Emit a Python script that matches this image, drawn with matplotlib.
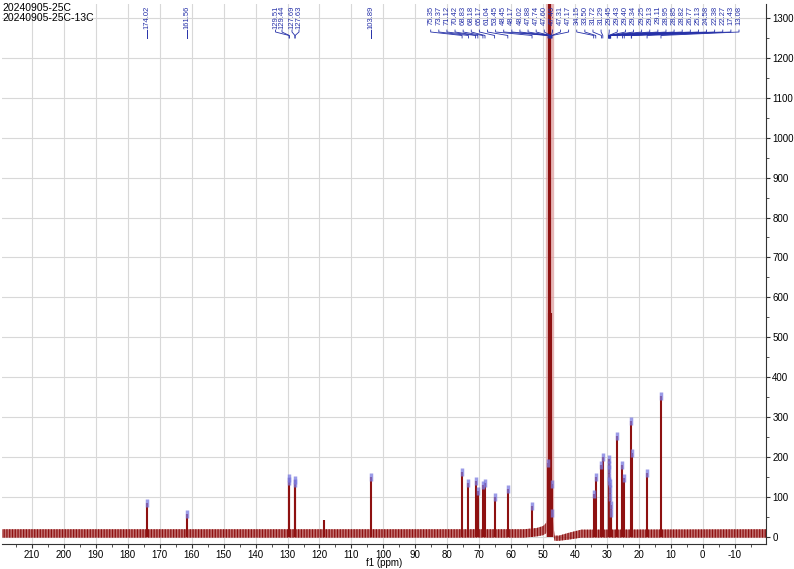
import matplotlib
matplotlib.use('Agg')
import matplotlib.pyplot as plt
import matplotlib.transforms as mtransforms
from matplotlib.ticker import MultipleLocator

plt.rcParams['font.family'] = ['Liberation Sans', 'DejaVu Sans']
plt.rcParams['hatch.linewidth'] = 0.9

# ---------------- data ----------------
titles = ['20240905-25C', '20240905-25C-13C']

# labelled peaks (ppm) and their heights
peak_ppm = [174.02, 161.56, 129.51, 129.44, 127.69, 127.63, 103.89,
            75.35, 73.37, 71.12, 70.42, 68.83, 68.18, 65.17, 61.04, 53.45,
            48.45, 48.17, 48.02, 47.88, 47.74, 47.60, 47.46, 47.31, 47.17,
            34.15, 33.50, 31.72, 31.29, 29.45, 29.43, 29.40, 29.34, 29.25,
            29.13, 29.11, 28.95, 28.85, 28.82, 26.77, 25.13, 24.58, 22.38,
            22.27, 17.43, 13.08]
peak_height = [85, 58, 148, 140, 142, 134, 150,
               162, 134, 139, 114, 129, 136, 101, 120, 77,
               186, 560, 1400, 1400, 1400, 560, 393, 133, 60,
               108, 150, 180, 201, 195, 180, 170, 151, 140,
               135, 120, 100, 80, 60, 253, 179, 147, 289,
               210, 161, 354]

# unlabelled small peak
extra_ppm = [118.7]
extra_height = [41]

# baseline noise envelope
band_ppm = [219.4, 56.0, 52.0, 50.0, 49.0, 48.6, 47.0, 46.4, 45.0, 42.0, 38.0, -19.8]
band_low = [-2, -2, 1, 4, 9, 20, 15, -10, -10, -7, -2, -2]
band_high = [19, 19, 22, 27, 35, 48, 48, 3, 3, 10, 18, 19]

# solvent broad peak
solvent_ppm = [47.8]
solvent_height = [1400]

x_ticks = list(range(210, -11, -10))
y_ticks = list(range(0, 1301, 100))

# groups of labels
isolated_labels = [174.02, 161.56, 103.89]
aromatic_labels = [129.51, 129.44, 127.69, 127.63]
cluster_labels = [75.35, 73.37, 71.12, 70.42, 68.83, 68.18, 65.17, 61.04, 53.45,
                  48.45, 48.17, 48.02, 47.88, 47.74, 47.60, 47.46, 47.31, 47.17,
                  34.15, 33.50, 31.72, 31.29, 29.45, 29.43, 29.40, 29.34, 29.25,
                  29.13, 29.11, 28.95, 28.85, 28.82, 26.77, 25.13, 24.58, 22.38,
                  22.27, 17.43, 13.08]

# ---------------- layout ----------------
W, H = 794, 569
fig = plt.figure(figsize=(W / 100, H / 100), dpi=100)
ax_l, ax_r, ax_t, ax_b = 2, 766, 4, 544
ax = fig.add_axes([ax_l / W, 1 - ax_b / H, (ax_r - ax_l) / W, (ax_b - ax_t) / H])

XMAX, XMIN = 219.4, -19.8
ax.set_xlim(XMAX, XMIN)
ax.set_ylim(-18, 1335)

red = '#8e1111'
blue = '#2530a8'

# grid
ax.set_xticks(x_ticks)
ax.set_yticks(y_ticks)
ax.xaxis.set_minor_locator(MultipleLocator(5))
ax.yaxis.set_minor_locator(MultipleLocator(50))
ax.grid(True, which='major', color='#d8d8d8', lw=0.8)
ax.set_axisbelow(True)

# baseline noise band
ax.fill_between(band_ppm, band_low, band_high, facecolor='#a83838', alpha=0.7, lw=0)
ax.fill_between(band_ppm, band_low, band_high, facecolor='none', edgecolor=red,
                hatch='||||||', lw=0)

# solvent broad peak halo
ax.vlines(solvent_ppm, 0, solvent_height, color='#dc9a9a', lw=6, alpha=0.7)

# peaks
ax.vlines(peak_ppm, 0, peak_height, color=red, lw=1.5)
ax.vlines(extra_ppm, 0, extra_height, color=red, lw=1.5)
vis = [(p, h) for p, h in zip(peak_ppm, peak_height)
       if not (47.0 < p < 48.3 and h > 200)]
ax.plot([p for p, h in vis], [h for p, h in vis], ls='none', marker='|',
        ms=6, mew=2.5, color='#7a7ae0', alpha=0.75)

# axes styling
for s in ['left', 'top']:
    ax.spines[s].set_visible(False)
ax.spines['right'].set_color('#333333')
ax.spines['bottom'].set_color('#333333')
ax.yaxis.tick_right()
ax.tick_params(axis='both', which='major', direction='out', length=3,
               labelsize=7, width=0.8, color='#333333')
ax.tick_params(axis='both', which='minor', direction='out', length=2,
               width=0.6, color='#333333')
ax.tick_params(axis='x', pad=1)
ax.tick_params(axis='y', pad=1.5)
ax.set_xticklabels([str(v) for v in x_ticks])
ax.set_yticklabels([str(v) for v in y_ticks])
ax.set_xlabel('f1 (ppm)', fontsize=7, labelpad=-1)

# titles
fig.text(2 / W, 1 - 3 / H, titles[0], fontsize=7.5, va='top', ha='left')
fig.text(2 / W, 1 - 13 / H, titles[1], fontsize=7.5, va='top', ha='left')

# peak labels
trans = mtransforms.blended_transform_factory(ax.transData, ax.transAxes)
ppx = (ax_r - ax_l) / (XMAX - XMIN)


def px2ppm(x):
    return XMAX - (x - ax_l) / ppx


def fy(ypx):
    return 1 - (ypx - ax_t) / (ax_b - ax_t)


def put_label(xl, txt):
    ax.text(xl, fy(6), txt, rotation=90, ha='center', va='top', fontsize=5.5,
            color=blue, transform=trans, clip_on=False)


for p in isolated_labels:
    put_label(p, f'{p:.2f}')
    ax.plot([p, p], [fy(30), fy(38)], color=blue, lw=0.7, transform=trans)

aro_px = [275.5, 282, 292, 299]
for p, xp in zip(aromatic_labels, aro_px):
    xl = px2ppm(xp)
    put_label(xl, f'{p:.2f}')
    ax.plot([xl, xl, p, p], [fy(30), fy(32), fy(35.5), fy(38)],
            color=blue, lw=0.6, transform=trans)

n = len(cluster_labels)
x0, x1 = 430.7, 739.0
for i, p in enumerate(cluster_labels):
    xl = px2ppm(x0 + (x1 - x0) * i / (n - 1))
    put_label(xl, f'{p:.2f}')
    ax.plot([xl, xl, p, p], [fy(30), fy(32), fy(35.5), fy(38)],
            color=blue, lw=0.6, transform=trans)

fig.savefig('out.png', dpi=100)
